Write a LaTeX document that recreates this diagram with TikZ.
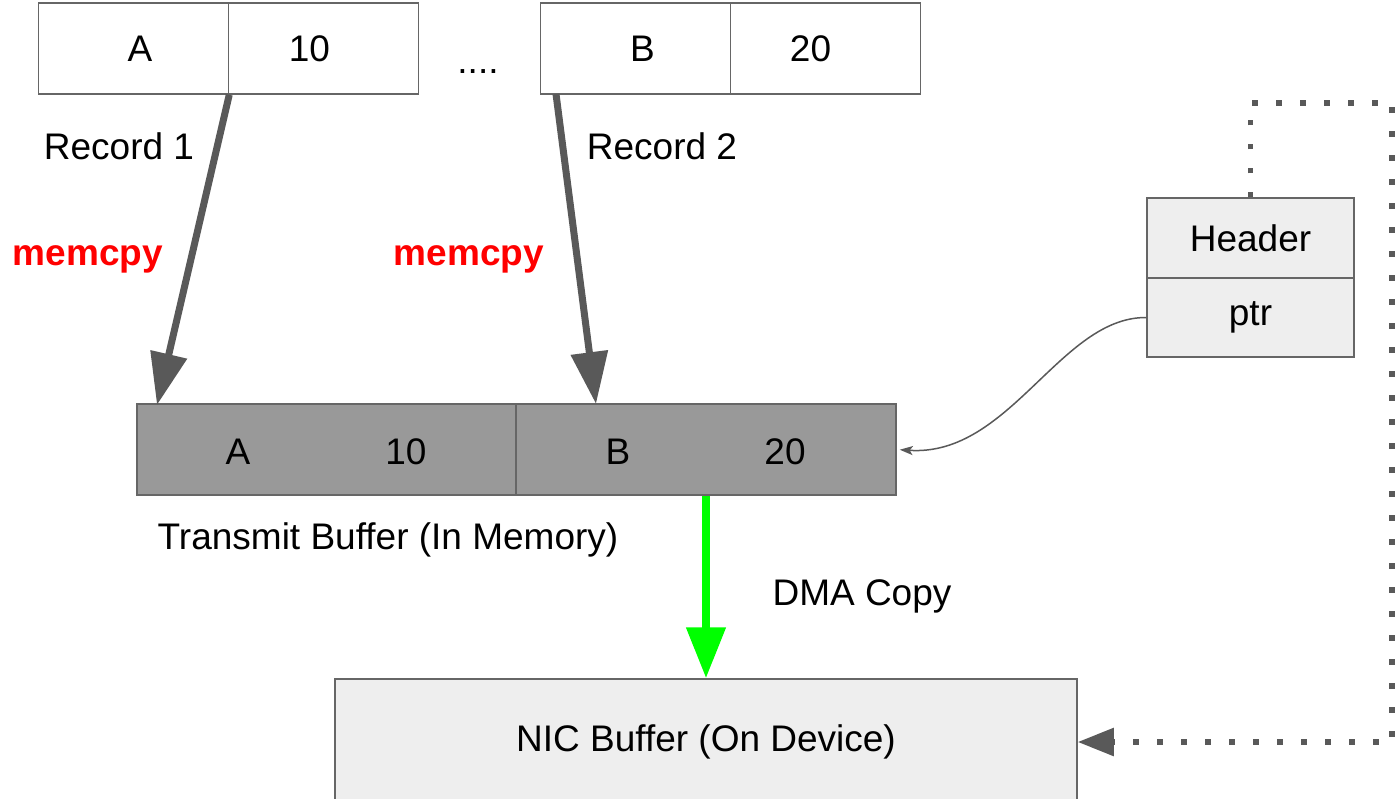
\documentclass[tikz,border=0pt]{standalone}
\usepackage{fontspec}
\setmainfont{Liberation Sans}
\usetikzlibrary{arrows.meta}

\definecolor{arrowgray}{HTML}{595959}
\definecolor{edgegray}{HTML}{666666}
\definecolor{buffgray}{HTML}{999999}
\definecolor{lightgray}{HTML}{EEEEEE}
\definecolor{dmagreen}{HTML}{00FF00}

\begin{document}
\begin{tikzpicture}[x=1pt,y=-1pt,
    every node/.style={font=\fontsize{37}{44}\selectfont, inner sep=0pt},
    reccell/.style={draw=edgegray, line width=1.5pt, fill=white, minimum width=190pt, minimum height=91pt},
    bufcell/.style={draw=edgegray, line width=1.5pt, fill=buffgray, minimum width=380pt, minimum height=91pt},
    hdrcell/.style={draw=edgegray, line width=1.5pt, fill=lightgray, minimum width=207pt, minimum height=80pt},
    memarrow/.style={draw=arrowgray, line width=7pt, -{Triangle[length=52pt,width=36pt]}},
    dotline/.style={draw=arrowgray, line width=5.5pt, dash pattern=on 5.5pt off 18.5pt, -{Triangle[length=36pt,width=27pt]}}]
    \useasboundingbox (0,0) rectangle (1395,798);
    \clip (0,0) rectangle (1395,798);

    % source records
    \node[reccell] (rec1key) at (133.5,48.5) {\hspace*{13pt}A};
    \node[reccell] (rec1val) at (323.5,48.5) {10\hspace*{28pt}};
    \node[anchor=base] (gap) at (478,73) {....};
    \node[reccell] (rec2key) at (635.5,48.5) {\hspace*{14pt}B};
    \node[reccell] (rec2val) at (825.5,48.5) {20\hspace*{30pt}};

    \node (rec1txt) at (119,146) {Record 1};
    \node (rec2txt) at (662,146) {Record 2};
    \node[text=red, font=\fontsize{37}{44}\selectfont\bfseries] (cpy1) at (88,259) {memcpy};
    \node[text=red, font=\fontsize{37}{44}\selectfont\bfseries] (cpy2) at (469,259) {memcpy};

    % transmit buffer
    \node[bufcell] (txbuf1) at (327,449.5) {};
    \node[bufcell] (txbuf2) at (706,449.5) {};
    \node (txA) at (238,452) {A};
    \node (tx10) at (406,452) {10};
    \node (txB) at (618,452) {B};
    \node (tx20) at (785,452) {20};
    \node (txtxt) at (388,540) {Transmit Buffer (In Memory)};

    % header
    \node[hdrcell] (hdr) at (1250.5,238) {Header};
    \node[hdrcell, minimum height=79pt] (ptr) at (1250.5,317.5) {ptr};

    % nic
    \node[draw=edgegray, line width=1.5pt, fill=lightgray, minimum width=742pt, minimum height=126pt] (nic) at (706,742) {NIC Buffer (On Device)};
    \node (dmatxt) at (862,596) {DMA Copy};

    \coordinate (src2) at (556,94);
    \coordinate (dst1) at (157,405);
    \coordinate (dst2) at (596,404);
    \coordinate (turn) at (1392,103);

    \draw[memarrow] (rec1key.south east) -- (dst1);
    \draw[memarrow] (src2) -- (dst2);
    \draw[dmagreen, line width=8pt, -{Triangle[length=51pt,width=38pt]}] (txbuf2.south) -- (nic.north);
    \draw[arrowgray, line width=1.5pt, shorten >=3pt, -{Stealth[length=13pt,width=9pt,inset=3pt]}]
        (ptr.west) .. controls (1060,317) and (1010,457) .. (txbuf2.east);
    \draw[dotline] (hdr.north) |- (turn) |- (nic.east);
\end{tikzpicture}
\end{document}
